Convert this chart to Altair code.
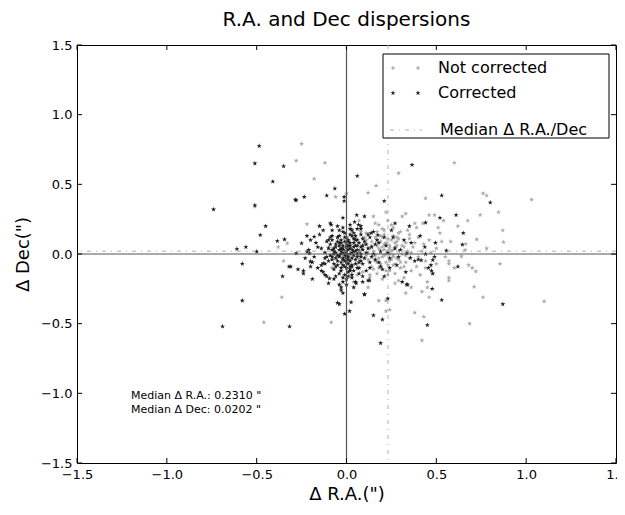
import altair as alt
import pandas as pd

# ---------------- data ----------------
# "Not corrected" (grey) points
nc_x = [0.23,0.20,0.26,0.18,0.28,0.22,0.25,0.15,0.31,0.19,0.27,0.12,0.33,0.21,0.24,0.16,0.30,0.10,0.35,0.14,
        0.29,0.17,0.37,0.08,0.26,0.20,0.39,0.11,0.34,0.06,0.42,0.13,0.23,0.32,0.05,0.40,0.18,0.27,0.44,0.09,
        0.24,0.21,0.26,0.19,0.22,0.25,0.17,0.29,0.23,0.20,0.28,0.16,0.32,0.14,0.30,0.21,0.35,0.11,0.26,0.18,
        0.46,0.48,0.50,0.03,0.02,0.52,0.38,0.07,0.45,0.15,0.55,0.31,0.00,0.58,0.42,0.12,0.36,0.60,0.04,0.22,
        0.24,0.27,0.19,0.33,0.13,0.29,0.17,0.36,0.23,0.10,-0.05,-0.10,-0.08,-0.15,-0.20,0.62,0.54,0.66,0.49,0.57,
        -0.25,-0.28,-0.12,-0.18,0.29,0.165,0.12,0.00,-0.06,-0.22,-0.38,-0.33,-0.35,-0.36,-0.46,-0.085,0.22,0.18,
        0.24,0.22,0.33,0.38,0.43,0.42,0.685,0.76,0.44,0.846,0.744,0.33,0.46,0.675,0.425,0.51,0.87,0.725,0.874,
        0.664,0.78,0.64,0.57,0.57,0.68,0.70,0.72,0.855,0.44,0.57,0.45,0.71,0.46,0.76,1.03,1.10,0.60,-0.51,0.78,
        0.22,0.25,0.20,0.27,0.18,0.24,0.21,0.29,0.16,0.31,0.23,0.19,0.26,0.14,0.33,0.28,0.17,0.34,0.12,0.22,
        0.30,0.15,0.38,0.09,0.25,0.20,0.36,0.13,0.40,0.07,0.24,0.26,0.21,0.28,0.19,0.32,0.17,0.35,0.11,0.27,
        0.43,0.41,0.47,0.08,0.06,0.39,0.29,0.16,0.50,0.53]
nc_y = [0.02,0.05,-0.01,-0.03,0.06,-0.06,0.10,0.02,0.00,0.09,-0.07,-0.04,0.08,0.14,-0.12,0.12,-0.10,0.07,-0.03,-0.09,
        0.15,-0.14,0.05,0.00,0.19,-0.18,-0.09,0.15,0.17,-0.07,0.02,-0.17,0.24,-0.17,0.11,0.12,0.21,-0.21,-0.05,-0.13,
        0.04,-0.01,0.03,0.01,0.08,-0.04,0.06,0.02,-0.08,0.12,-0.03,-0.05,0.05,0.09,-0.06,0.17,0.11,-0.01,0.13,-0.10,
        0.10,-0.14,0.04,0.18,-0.12,0.15,0.22,0.24,-0.20,0.27,-0.02,0.27,0.05,0.09,-0.27,-0.24,-0.24,-0.10,-0.20,0.30,
        0.00,0.08,-0.07,-0.01,0.04,0.11,0.16,0.01,-0.15,0.12,0.12,0.05,-0.10,0.20,-0.05,0.20,0.24,0.03,0.28,-0.17,
        0.79,0.67,0.655,0.54,0.58,0.49,0.44,0.435,0.41,0.215,0.05,0.077,-0.05,-0.31,-0.49,-0.49,-0.335,-0.335,
        -0.40,-0.41,-0.28,-0.42,-0.45,-0.62,-0.50,0.435,0.40,0.30,0.28,0.29,0.28,0.24,0.22,0.19,0.17,0.105,0.086,
        0.072,0.04,-0.017,-0.05,-0.07,-0.08,-0.10,-0.125,-0.07,-0.10,-0.19,-0.24,-0.235,-0.31,-0.31,0.39,-0.34,0.655,0.34,0.42,
        0.00,0.02,-0.02,0.05,0.04,-0.05,0.07,-0.04,-0.01,0.06,0.11,-0.09,-0.08,0.06,-0.06,0.12,0.10,0.02,0.01,-0.12,
        0.16,-0.11,0.08,0.04,0.21,0.18,-0.12,-0.15,-0.02,-0.04,0.06,-0.02,0.03,0.09,0.13,-0.09,-0.06,0.14,0.10,-0.14,
        0.07,-0.15,0.01,0.16,-0.15,0.19,-0.19,0.22,-0.07,0.09]

# "Corrected" (black) points
c_x = [-0.02,0.01,0.03,-0.05,0.00,-0.03,0.05,0.02,-0.08,0.07,-0.01,0.04,-0.06,0.09,-0.10,0.12,-0.04,0.01,-0.12,0.06,
       -0.07,0.10,-0.02,0.14,-0.14,0.03,-0.09,0.08,-0.16,0.16,0.00,-0.03,0.02,0.05,-0.06,0.04,-0.01,0.08,-0.09,0.01,
       -0.04,0.11,-0.11,0.13,-0.13,0.06,-0.05,0.18,-0.18,0.02,-0.02,0.09,-0.08,0.15,-0.15,0.19,-0.20,0.04,-0.07,0.12,
       0.20,0.22,0.24,0.17,0.26,0.28,0.21,0.30,0.25,0.33,-0.03,0.01,-0.02,0.03,-0.07,0.06,0.00,-0.04,0.07,-0.10,
       0.11,-0.01,0.02,-0.12,0.09,-0.05,0.13,-0.08,0.05,-0.03,0.36,0.38,0.41,0.44,0.31,0.35,0.47,0.27,-0.22,-0.24,
       -0.486,-0.51,-0.35,-0.41,-0.74,-0.51,-0.28,-0.235,-0.11,-0.065,0.06,0.365,-0.013,-0.013,-0.02,0.21,-0.45,-0.48,
       -0.385,-0.345,-0.56,-0.61,-0.50,-0.58,-0.32,-0.356,-0.58,-0.69,-0.317,-0.01,0.017,-0.05,-0.04,0.026,0.10,0.15,
       0.20,0.19,0.23,0.335,0.45,0.53,0.87,0.53,0.80,0.61,0.52,0.44,0.65,0.645,0.495,0.436,0.556,0.336,0.356,0.40,
       0.416,0.49,0.48,0.62,0.456,0.473,0.48,0.34,0.477,-0.285,0.057,0.10,0.045,0.067,0.08,-0.15,-0.085,-0.18,-0.20,
       0.137,0.174,-0.25,-0.22,-0.206,-0.28,-0.20,-0.13,-0.31,-0.27,-0.24,-0.19,-0.14,-0.12,-0.095,-0.10,-0.04,-0.03,
       -0.02,0.054,0.09,0.128,0.10,0.03,
       -0.01,0.02,-0.04,0.03,-0.02,0.00,0.04,-0.06,0.06,-0.05,0.01,-0.03,0.07,-0.09,0.08,-0.07,0.02,-0.01,0.10,-0.11,
       0.00,0.03,-0.02,0.05,-0.06,0.01,-0.04,0.06,-0.08,0.04,-0.03,0.02,-0.01,0.00,0.05,-0.05,0.09,-0.10,0.11,-0.12,
       0.07,-0.06,0.03,-0.02,0.13,-0.14,0.15,-0.16,0.12,0.00,-0.04,0.02,0.06,-0.08,0.09,-0.02,0.01,-0.07,0.04,0.08,
       0.14,0.16,0.18,0.19,0.23,0.21,0.27,0.24,0.29,0.32,-0.17,-0.19,-0.21,-0.23,-0.13,-0.11,0.05,-0.03,0.08,-0.09,
       -0.02,0.00,0.02,-0.01,0.01,-0.03,0.03,-0.04,0.04,-0.05,0.05,0.00,-0.02,0.02,-0.06,0.06,-0.03,0.03,-0.01,0.01,
       -0.07,0.07,-0.04,0.04,0.00,-0.08,0.08,-0.02,0.02,0.00]
c_y = [0.01,-0.02,0.03,-0.01,0.05,-0.06,-0.04,0.08,0.03,0.02,-0.09,0.11,0.07,-0.07,-0.05,0.04,0.13,-0.13,0.01,-0.10,
       -0.11,0.09,0.16,-0.02,-0.08,-0.17,0.12,0.14,0.05,0.07,0.00,0.04,-0.05,0.06,-0.03,-0.01,0.09,-0.02,-0.01,0.03,
       -0.14,-0.12,0.09,0.12,-0.13,0.18,0.20,-0.06,-0.02,0.21,-0.20,-0.16,0.17,0.16,0.14,0.02,-0.09,-0.24,-0.18,-0.19,
       -0.11,0.06,-0.03,0.10,0.12,-0.08,-0.16,0.03,0.17,-0.13,0.02,0.06,-0.03,-0.08,0.00,0.03,-0.06,0.08,-0.06,0.04,
       0.01,0.12,-0.11,-0.03,0.06,-0.08,-0.06,0.10,0.13,-0.12,0.08,-0.05,0.13,0.00,-0.20,0.20,-0.08,0.22,0.13,-0.14,
       0.775,0.65,0.63,0.52,0.32,0.35,0.385,0.41,0.42,0.47,0.56,0.64,0.41,0.38,0.26,0.38,0.20,0.136,
       0.093,0.105,0.05,0.036,0.017,-0.07,-0.09,-0.16,-0.335,-0.52,-0.52,-0.43,-0.41,-0.35,-0.36,-0.347,-0.29,-0.44,
       -0.47,-0.64,-0.32,-0.22,-0.51,-0.33,-0.36,0.42,0.37,0.28,0.26,0.225,0.15,0.067,0.08,0.05,0.024,0.005,-0.027,-0.04,
       -0.045,-0.02,-0.043,-0.09,-0.10,-0.12,-0.14,-0.22,-0.25,0.39,0.28,0.27,0.23,0.21,0.18,0.20,0.21,0.124,0.10,
       0.15,0.136,0.077,0.017,0.005,0.005,-0.055,-0.067,-0.09,-0.11,-0.12,-0.18,-0.12,-0.15,-0.175,-0.21,-0.22,-0.26,
       -0.28,-0.21,-0.20,-0.19,-0.29,-0.15,
       0.02,0.00,0.03,-0.03,-0.04,0.07,0.05,0.05,0.00,-0.05,-0.07,0.10,0.08,0.07,-0.05,-0.07,0.14,-0.15,-0.03,-0.02,
       0.02,0.01,0.06,-0.07,0.01,-0.04,-0.02,0.10,-0.04,-0.12,0.00,0.04,-0.01,-0.03,0.02,0.09,0.03,0.10,0.07,-0.07,
       -0.14,-0.16,0.17,0.19,-0.10,0.04,0.00,-0.10,0.14,-0.18,0.06,-0.09,-0.02,0.13,0.11,0.03,0.10,0.04,0.08,0.00,
       0.05,-0.04,0.08,-0.09,0.01,0.12,0.04,-0.10,-0.02,0.10,0.08,-0.06,0.03,-0.03,0.17,-0.16,-0.20,-0.24,0.20,0.22,
       0.04,-0.01,0.06,-0.05,0.09,0.08,-0.09,-0.01,0.02,0.12,0.10,-0.10,-0.08,-0.12,-0.09,0.06,-0.10,0.13,0.15,-0.16,
       0.02,-0.10,0.17,0.15,0.12,-0.02,0.05,-0.17,0.18,-0.22]

median_ra = [0.2310]
median_dec = [0.0202]
zero_line = [0.0]
tick_values = [-1.5, -1.0, -0.5, 0.0, 0.5, 1.0, 1.5]
series_labels = ["Not corrected", "Corrected", "Median \u0394 R.A./Dec"]
annot_lines = ['Median \u0394 R.A.: 0.2310 "', 'Median \u0394 Dec: 0.0202 "']
annot_x = [-1.2, -1.2]
annot_y = [-1.02, -1.12]

# ---------------- build ----------------
W, H = 539, 418
FONT = "DejaVu Sans"
STAR = ("M0,-1L0.2245,-0.309L0.951,-0.309L0.363,0.118L0.588,0.809L0,0.382"
        "L-0.588,0.809L-0.363,0.118L-0.951,-0.309L-0.2245,-0.309Z")
GREY = "#a8a8a8"
BLACK = "#1e1e1e"
MS = 28

xs = alt.Scale(domain=[-1.5, 1.5], nice=False, zero=False)
ys = alt.Scale(domain=[-1.5, 1.5], nice=False, zero=False)

xaxis = alt.Axis(values=tick_values, format=".1f", title='\u0394 R.A.(")', labelFlush=False,
                 labelOverlap=False, labelPadding=5, titlePadding=4)
yaxis = alt.Axis(values=tick_values, format=".1f", title='\u0394 Dec(")', labelFlush=False,
                 labelOverlap=False, labelPadding=5, titlePadding=8)


def X(field="x"):
    return alt.X(f"{field}:Q", scale=xs, axis=xaxis)


def Y(field="y"):
    return alt.Y(f"{field}:Q", scale=ys, axis=yaxis)


df_nc = pd.DataFrame({"x": nc_x, "y": nc_y})
df_c = pd.DataFrame({"x": c_x, "y": c_y})
one = pd.DataFrame({"a": [0]})

pts_nc = alt.Chart(df_nc).mark_point(shape=STAR, filled=True, size=MS, color=GREY, opacity=1).encode(
    x=X(), y=Y())
pts_c = alt.Chart(df_c).mark_point(shape=STAR, filled=True, size=MS, color=BLACK, opacity=1).encode(
    x=X(), y=Y())

zero_v = alt.Chart(pd.DataFrame({"x": zero_line})).mark_rule(color="#555555", strokeWidth=1.2).encode(x=X())
zero_h = alt.Chart(pd.DataFrame({"y": zero_line})).mark_rule(color="#555555", strokeWidth=1.2).encode(y=Y())
med_v = alt.Chart(pd.DataFrame({"x": median_ra})).mark_rule(
    color="#b0b0b0", strokeWidth=1, strokeDash=[4, 5, 1, 5]).encode(x=X())
med_h = alt.Chart(pd.DataFrame({"y": median_dec})).mark_rule(
    color="#b0b0b0", strokeWidth=1, strokeDash=[4, 5, 1, 5]).encode(y=Y())

TL = 5
tick_b = alt.Chart(pd.DataFrame({"x": tick_values})).mark_rule(color="black").encode(
    x=X(), y=alt.value(H), y2=alt.value(H - TL))
tick_t = alt.Chart(pd.DataFrame({"x": tick_values})).mark_rule(color="black").encode(
    x=X(), y=alt.value(0), y2=alt.value(TL))
tick_l = alt.Chart(pd.DataFrame({"y": tick_values})).mark_rule(color="black").encode(
    y=Y(), x=alt.value(0), x2=alt.value(TL))
tick_r = alt.Chart(pd.DataFrame({"y": tick_values})).mark_rule(color="black").encode(
    y=Y(), x=alt.value(W), x2=alt.value(W - TL))

annot = alt.Chart(pd.DataFrame({"x": annot_x, "y": annot_y, "t": annot_lines})).mark_text(
    align="left", baseline="middle", font=FONT, fontSize=11, color="black").encode(
    x=X(), y=Y(), text="t:N")

# legend (manual, matplotlib style)
LX0, LX1, LY0, LY1 = 306, 532, 9, 93
rows_y = [23, 48, 85]
leg_layers = [alt.Chart(one).mark_rect(fill="white", stroke="black", strokeWidth=1).encode(
    x=alt.value(LX0), x2=alt.value(LX1), y=alt.value(LY0), y2=alt.value(LY1))]
for i, col in enumerate([GREY, BLACK]):
    for mx in (316, 341):
        leg_layers.append(alt.Chart(one).mark_point(shape=STAR, filled=True, size=MS, color=col, opacity=1).encode(
            x=alt.value(mx), y=alt.value(rows_y[i])))
leg_layers.append(alt.Chart(one).mark_rule(color="#b0b0b0", strokeWidth=1, strokeDash=[4, 5, 1, 5]).encode(
    x=alt.value(313), x2=alt.value(345), y=alt.value(rows_y[2])))
for i, lab in enumerate(series_labels):
    leg_layers.append(alt.Chart(one).mark_text(align="left", baseline="middle", font=FONT, fontSize=16,
                                               color="black", text=lab).encode(
        x=alt.value(361 if i < 2 else 363), y=alt.value(rows_y[i])))

chart = alt.layer(
    pts_nc, pts_c, zero_v, zero_h, med_v, med_h, tick_b, tick_t, tick_l, tick_r, annot, *leg_layers
).properties(
    width=W, height=H,
    title=alt.TitleParams("R.A. and Dec dispersions", font=FONT, fontSize=20, fontWeight="normal",
                          anchor="middle", frame="group", offset=9, color="black"),
    autosize=alt.AutoSizeParams(type="none"),
    padding={"left": 69, "top": 37, "right": 1, "bottom": 42},
).configure_view(
    stroke="black", strokeWidth=1
).configure_axis(
    domain=False, grid=False, ticks=False, labelFont=FONT, labelFontSize=13, labelColor="black",
    titleFont=FONT, titleFontSize=18, titleFontWeight="normal", titleColor="black"
)

chart.save("out.html", embed_options={"renderer": "svg", "actions": False})
